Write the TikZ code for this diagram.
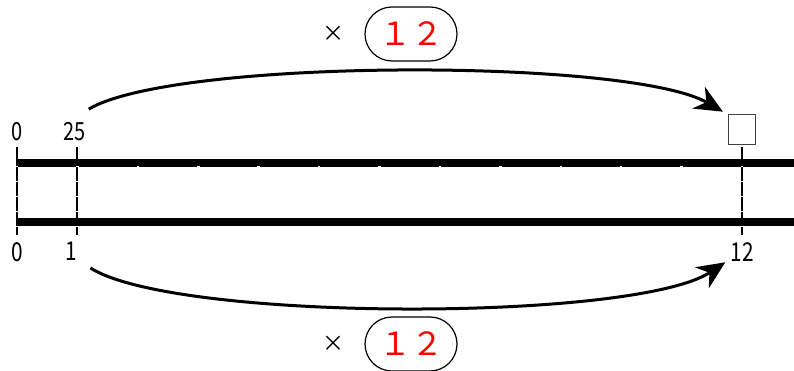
\documentclass[tikz,border=0pt]{standalone}
\usepackage{fontspec}
\newfontfamily\jpfont{Noto Sans CJK JP}
\newfontfamily\numfont[FakeStretch=0.8]{Noto Sans CJK JP}
\usetikzlibrary{positioning, arrows.meta, shapes.misc}
\tikzset{
    toplabel/.style = {inner sep=0pt, font=\numfont\fontsize{25}{25}\selectfont},
    botlabel/.style = {inner sep=0pt, font=\numfont\fontsize{26}{26}\selectfont},
    bar/.style = {line width=8pt},
    guide/.style = {line width=2pt},
    gapline/.style = {white, line width=2.5pt, dash pattern=on 1pt off 14pt},
    jump/.style = {line width=3pt, -{Stealth[length=28pt,width=25pt,inset=9pt]}},
    blankbox/.style = {draw=black!75, line width=1.3pt, minimum width=27pt,
                       minimum height=30pt, inner sep=0pt},
    factor/.style = {rounded rectangle, draw, line width=1.2pt, minimum width=92pt,
                     minimum height=54pt, inner sep=0pt, text=red,
                     font=\jpfont\fontsize{32}{32}\selectfont},
    times/.style = {inner sep=0pt, font=\jpfont\fontsize{22}{22}\selectfont},
}
\begin{document}
\begin{tikzpicture}[x=1pt, y=1pt]
    \useasboundingbox (0,0) rectangle (794,371);
    % unit marks on both lines
    \foreach \k in {0,...,12}{
        \coordinate (top\k) at ({17+60.42*\k},224);
        \coordinate (bot\k) at ({17+60.42*\k},136);
    }
    % the two thick lines
    \coordinate (upL) at (17,208);
    \coordinate (upR) at (794,208);
    \coordinate (loL) at (17,149);
    \coordinate (loR) at (794,149);
    \draw[bar] (upL) -- (upR);
    \draw[bar] (loL) -- (loR);
    % vertical guides
    \draw[guide] (top0) -- (bot0);
    \draw[guide] (top1) -- (bot1);
    \draw[guide] (top12) -- (bot12);
    \foreach \k in {0,...,12}
        \draw[gapline] ([yshift=-19.5pt]top\k) -- ([yshift=5pt]bot\k);
    % numbers
    \node[toplabel, above=6pt of top0] (ltop0) {0};
    \node[toplabel, above=6pt of top1, xshift=-3pt] (ltop1) {25};
    \node[blankbox, above=2pt of top12] (blank) {};
    \node[botlabel, below=7pt of bot0] (lbot0) {0};
    \node[botlabel, below=7pt of bot1, xshift=-6pt] (lbot1) {1};
    \node[botlabel, below=7pt of bot12] (lbot12) {12};
    % multiply arrows
    \draw[jump] ([xshift=3pt,yshift=13pt]ltop1.north east)
        .. controls (175,313) and (630,313) .. ([xshift=-5pt,yshift=2pt]blank.north west);
    \draw[jump] ([xshift=13pt,yshift=-7pt]lbot1.south east)
        .. controls (175,49) and (635,49) .. ([xshift=-5pt,yshift=-1pt]lbot12.south west);
    % factor labels
    \node[factor] (ftop) at (411,337) {１２};
    \node[times, left=20pt of ftop] (xtop) {×};
    \node[factor] (fbot) at (411,27) {１２};
    \node[times, left=20pt of fbot] (xbot) {×};
\end{tikzpicture}
\end{document}
